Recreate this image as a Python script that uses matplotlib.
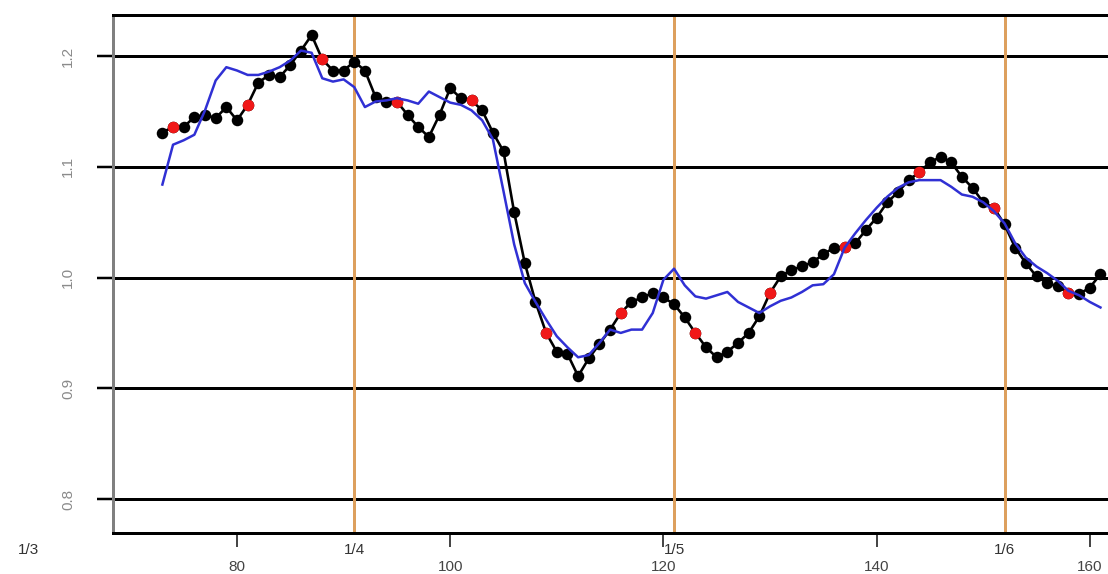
import matplotlib
matplotlib.use("Agg")
import matplotlib.pyplot as plt
import matplotlib.transforms as mtransforms

plt.rcParams['font.family'] = ['Liberation Sans', 'DejaVu Sans']

# Day of year for each observation
days = list(range(73, 162))

# Observed index (black points)
observed = [
    1.131, 1.136, 1.136, 1.145, 1.147, 1.144, 1.154, 1.142, 1.156, 1.176,
    1.183, 1.181, 1.192, 1.205, 1.219, 1.197, 1.187, 1.187, 1.195, 1.187,
    1.163, 1.159, 1.159, 1.147, 1.136, 1.127, 1.147, 1.171, 1.162, 1.160,
    1.151, 1.131, 1.114, 1.059, 1.013, 0.978, 0.950, 0.933, 0.931, 0.911,
    0.927, 0.940, 0.953, 0.968, 0.978, 0.982, 0.986, 0.982, 0.976, 0.964,
    0.950, 0.937, 0.928, 0.933, 0.941, 0.950, 0.965, 0.986, 1.001, 1.007,
    1.010, 1.014, 1.021, 1.027, 1.028, 1.031, 1.043, 1.054, 1.068, 1.077,
    1.088, 1.095, 1.104, 1.109, 1.104, 1.091, 1.081, 1.068, 1.063, 1.048,
    1.027, 1.013, 1.001, 0.995, 0.992, 0.986, 0.985, 0.991, 1.003,
]

# Fitted / smoothed index (blue line)
fitted = [
    1.084, 1.120, 1.124, 1.129, 1.151, 1.178, 1.190, 1.187, 1.183, 1.183,
    1.186, 1.190, 1.196, 1.205, 1.203, 1.180, 1.177, 1.179, 1.172, 1.154,
    1.159, 1.160, 1.162, 1.160, 1.157, 1.168, 1.163, 1.158, 1.156, 1.151,
    1.142, 1.125, 1.078, 1.030, 0.995, 0.978, 0.962, 0.947, 0.937, 0.928,
    0.930, 0.941, 0.953, 0.950, 0.953, 0.953, 0.968, 0.998, 1.008, 0.993,
    0.983, 0.981, 0.984, 0.987, 0.978, 0.973, 0.968, 0.974, 0.979, 0.982,
    0.987, 0.993, 0.994, 1.003, 1.027, 1.040, 1.052, 1.063, 1.073, 1.081,
    1.086, 1.088, 1.088, 1.088, 1.082, 1.075, 1.073, 1.068, 1.060, 1.049,
    1.031, 1.018, 1.010, 1.004, 0.997, 0.988, 0.984, 0.978, 0.973,
]

# Weekly marker days highlighted in red
red_days = [74, 81, 88, 95, 102, 109, 116, 123, 130, 137, 144, 151, 158]

# Month starts (day of year) and their labels
month_days = [60, 91, 121, 152]
month_labels = ['1/3', '1/4', '1/5', '1/6']

x_ticks = [80, 100, 120, 140, 160]
y_ticks = [0.8, 0.9, 1.0, 1.1, 1.2]

W, H = 1108, 574
fig = plt.figure(figsize=(W / 100, H / 100), dpi=100)

# Axes geometry in pixels (right side runs past the canvas edge)
left_px, right_px, top_px, bottom_px = 113, 1130, 14.6, 533
ax = fig.add_axes([left_px / W, (H - bottom_px) / H,
                   (right_px - left_px) / W, (bottom_px - top_px) / H])

px_per_day = 10.66
x0 = 80 - (237 - left_px) / px_per_day
ax.set_xlim(x0, x0 + (right_px - left_px) / px_per_day)
ax.set_ylim(0.7693, 1.2375)

lw_px = 0.72  # points per pixel at 100 dpi

# Horizontal reference lines
for yv in y_ticks:
    ax.axhline(yv, color='black', lw=3 * lw_px, zorder=1)

# Month boundaries
for d in month_days[1:]:
    ax.axvline(d, color='#DDA05E', lw=3 * lw_px, zorder=2)

# Observed series
ax.plot(days, observed, color='black', lw=2.6 * lw_px, marker='o',
        markersize=8.3, markeredgewidth=0, zorder=3)
red_vals = [observed[days.index(d)] for d in red_days]
ax.plot(red_days, red_vals, linestyle='none', marker='o', color='#F01818',
        markersize=8.3, markeredgewidth=0, zorder=4)

# Smoothed series
ax.plot(days, fitted, color='#3030D4', lw=2.5 * lw_px, zorder=5)

# Spines
ax.spines['right'].set_visible(False)
ax.spines['top'].set_linewidth(3 * lw_px)
ax.spines['bottom'].set_linewidth(3 * lw_px)
ax.spines['left'].set_linewidth(3 * lw_px)
ax.spines['left'].set_color('#808080')

# Ticks
ax.set_xticks(x_ticks)
ax.set_xticklabels([str(v) for v in x_ticks])
ax.tick_params(axis='x', length=14 * lw_px, width=1.8 * lw_px, pad=13 * lw_px,
               labelsize=11, labelcolor='#444444', color='#333333')
ax.set_yticks(y_ticks)
ax.set_yticklabels([f'{v:.1f}' for v in y_ticks], rotation=90, va='center')
ax.tick_params(axis='y', length=16 * lw_px, width=2.5 * lw_px, pad=22 * lw_px,
               labelsize=11, labelcolor='#8a8a8a', color='black')

# Month labels under the axis
trans = mtransforms.blended_transform_factory(ax.transData, ax.transAxes)
for d, lab in zip(month_days, month_labels):
    xd = d + 0.4 if d == month_days[0] else d
    ax.text(xd, -0.033, lab, transform=trans, ha='center', va='center',
            fontsize=11, color='#333333', clip_on=False)

fig.savefig('out.png', dpi=100)
